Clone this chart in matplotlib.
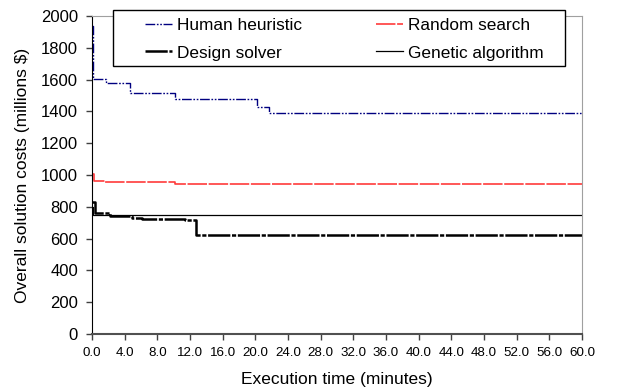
import matplotlib
matplotlib.use("Agg")
import matplotlib.pyplot as plt
from matplotlib.patches import Rectangle

plt.rcParams['font.family'] = ['Liberation Sans', 'DejaVu Sans']
plt.rcParams['lines.scale_dashes'] = False

# step data (minutes, millions $)
human_t = [0.0, 0.15, 1.7, 4.65, 10.2, 20.2, 21.7, 60.0]
human_cost = [1940, 1604, 1577, 1514, 1478, 1426, 1388, 1388]

random_t = [0.0, 0.25, 1.6, 10.2, 60.0]
random_cost = [1006, 964, 956, 943, 943]

design_t = [0.0, 0.35, 2.2, 4.86, 6.1, 11.4, 12.7, 60.0]
design_cost = [832, 759, 742, 730, 723, 717, 625, 625]

genetic_t = [0.0, 0.15, 60.0]
genetic_cost = [800, 746, 746]

xticks = list(range(0, 61, 4))
yticks = list(range(0, 2001, 200))

fig = plt.figure(figsize=(6.2, 3.89), dpi=100)
ax = fig.add_axes([92 / 620, 55 / 389, 490 / 620, 318 / 389])

l1, = ax.plot(human_t, human_cost, drawstyle='steps-post', color='#000080', lw=1.0,
              dashes=(7, 1.2, 1.2, 1.2, 1.2, 1.2), label='Human heuristic')
l2, = ax.plot(design_t, design_cost, drawstyle='steps-post', color='black', lw=1.8,
              dashes=(16, 1.2, 3, 1.2), label='Design solver')
l3, = ax.plot(random_t, random_cost, drawstyle='steps-post', color='#ff3b3b', lw=1.2,
              dashes=(14, 1.2), label='Random search')
l4, = ax.plot(genetic_t, genetic_cost, drawstyle='steps-post', color='black', lw=0.9,
              label='Genetic algorithm')

ax.set_xlim(0, 60)
ax.set_ylim(0, 2000)
ax.set_xticks(xticks)
ax.set_xticklabels([f"{t:.1f}" for t in xticks], fontsize=9.6)
ax.set_yticks(yticks)
ax.set_yticklabels([str(v) for v in yticks], fontsize=12)
ax.tick_params(axis='both', direction='out', length=4, width=1, color='#404040')
ax.tick_params(axis='y', pad=6)
ax.tick_params(axis='x', pad=5)

ax.spines['left'].set_color('black')
ax.spines['bottom'].set_color('#505050')
ax.spines['bottom'].set_linewidth(1.5)
ax.spines['top'].set_color('#a0a0a0')
ax.spines['right'].set_color('#a0a0a0')

ax.set_xlabel('Execution time (minutes)', fontsize=12.5, labelpad=10)
ax.set_ylabel(r'Overall solution costs (millions \$)', fontsize=12.5, labelpad=8)

# legend box, drawn separately so the padding matches the original
fig.patches.append(Rectangle((113 / 620, 1 - 65.5 / 389), 452 / 620, 56 / 389,
                             transform=fig.transFigure, facecolor='white',
                             edgecolor='black', lw=1.0, zorder=5))
leg = fig.legend(handles=[l1, l2, l3, l4], ncol=2, frameon=False,
                 loc='upper left', bbox_to_anchor=(145 / 620, 1 - 18 / 389),
                 borderpad=0, borderaxespad=0, fontsize=12.4,
                 handlelength=1.55, handletextpad=0.3, columnspacing=4.3,
                 labelspacing=0.72)
leg.set_zorder(6)

fig.savefig('out.png', dpi=100)
